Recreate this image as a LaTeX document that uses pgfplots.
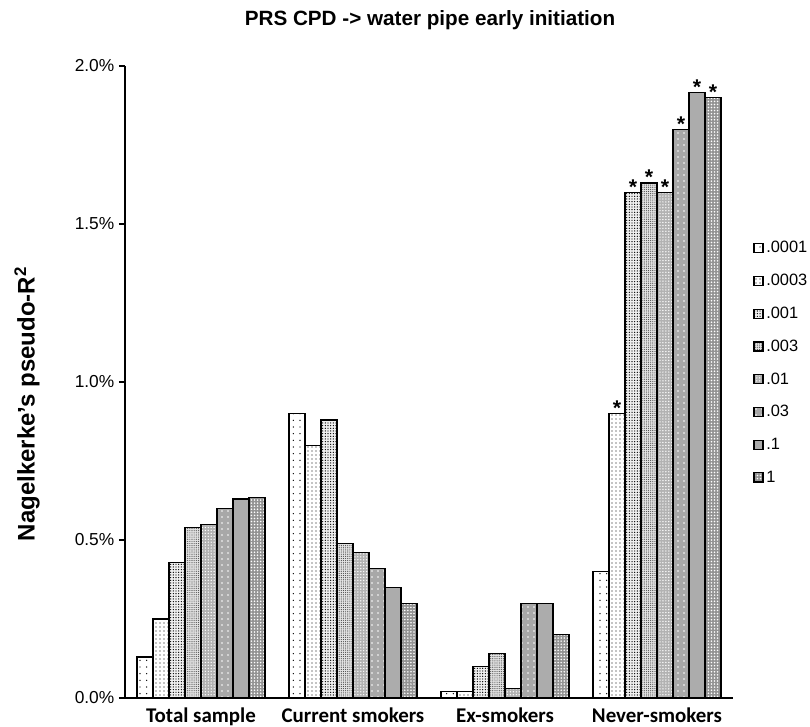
\documentclass[border=0pt]{standalone}
\usepackage{pgfplots}
\pgfplotsset{compat=1.18}
\usepackage{fontspec}
\setmainfont{Liberation Sans}
\newfontfamily\carlito{Carlito}
\usetikzlibrary{patterns,patterns.meta}

\pgfplotsset{
 sA/.style={draw=black, line width=0.9pt, fill=white, postaction={pattern={Dots[distance=5pt,radius=0.55pt]}, pattern color=black}},
 sB/.style={draw=black, line width=0.9pt, fill=white, postaction={pattern={Dots[distance=3pt,radius=0.5pt]}, pattern color=black}},
 sC/.style={draw=black, line width=0.9pt, fill=gray!12, postaction={pattern={Dots[distance=2pt,radius=0.5pt]}, pattern color=black}},
 sD/.style={draw=black, line width=0.9pt, fill=gray!22, postaction={pattern={Dots[distance=1.6pt,radius=0.45pt]}, pattern color=gray!60!black}},
 sE/.style={draw=black, line width=0.9pt, fill=gray!60, postaction={pattern={Dots[distance=2.2pt,radius=0.55pt]}, pattern color=white}},
 sF/.style={draw=black, line width=0.9pt, fill=gray!68, postaction={pattern={Dots[distance=4.5pt,radius=0.7pt]}, pattern color=white}},
 sG/.style={draw=black, line width=0.9pt, fill=gray!55, postaction={pattern={Dots[distance=1.5pt,radius=0.35pt]}, pattern color=gray!30!black}},
 sH/.style={draw=black, line width=0.9pt, fill=gray!85, postaction={pattern={Dots[distance=2.3pt,radius=0.65pt]}, pattern color=white}},
 sqleg/.style={legend image code/.code={\draw[##1] (0pt,-3.4pt) rectangle (6.8pt,3.4pt);}},
}

\begin{document}
\begin{tikzpicture}
\useasboundingbox (-93.75pt,-21.75pt) rectangle (513.75pt,523.5pt);
\begin{axis}[
 at={(0pt,0pt)}, anchor=south west,
 scale only axis, width=456pt, height=474pt,
 ybar=0pt, bar width=12pt,
 xmin=-0.5, xmax=3.5, ymin=0, ymax=2,
 axis lines=left,
 axis line style={-, line width=1.4pt},
 x axis line style={-}, y axis line style={-},
 xtick={0,1,2,3},
 xticklabels={Total sample, Current smokers, Ex-smokers, Never-smokers},
 xtick style={draw=none},
 xticklabel style={font=\carlito\bfseries\fontsize{15.7}{17}\selectfont, yshift=1pt},
 ytick={0,0.5,1,1.5,2},
 yticklabels={0.0\%,0.5\%,1.0\%,1.5\%,2.0\%},
 ytick style={line width=1.4pt, black},
 tick align=outside, major tick length=4.5pt,
 yticklabel style={font=\fontsize{13}{15}\selectfont},
 legend style={at={(1.033,0.727)}, anchor=north west, draw=none, fill=none,
   font=\fontsize{12.3}{14}\selectfont, row sep=10.5pt, inner sep=0pt},
 legend cell align=left,
 nodes near coords, point meta=explicit symbolic,
 every node near coord/.append style={font=\bfseries\fontsize{16}{16}\selectfont, inner sep=1pt, yshift=-3pt},
]
\addplot[sA, sqleg] coordinates {(0,0.13) [] (1,0.90) [] (2,0.02) [] (3,0.40) []};
\addplot[sB, sqleg] coordinates {(0,0.25) [] (1,0.80) [] (2,0.02) [] (3,0.90) [*]};
\addplot[sC, sqleg] coordinates {(0,0.43) [] (1,0.88) [] (2,0.10) [] (3,1.60) [*]};
\addplot[sD, sqleg] coordinates {(0,0.54) [] (1,0.49) [] (2,0.14) [] (3,1.63) [*]};
\addplot[sE, sqleg] coordinates {(0,0.55) [] (1,0.46) [] (2,0.03) [] (3,1.60) [*]};
\addplot[sF, sqleg] coordinates {(0,0.60) [] (1,0.41) [] (2,0.30) [] (3,1.80) [*]};
\addplot[sG, sqleg] coordinates {(0,0.63) [] (1,0.35) [] (2,0.30) [] (3,1.915) [*]};
\addplot[sH, sqleg] coordinates {(0,0.635) [] (1,0.30) [] (2,0.20) [] (3,1.90) [*]};
\legend{.0001,.0003,.001,.003,.01,.03,.1,1}
\end{axis}
\node[font=\bfseries\fontsize{15.5}{17}\selectfont] at (228.75pt,508.5pt) {PRS CPD -> water pipe early initiation};
\node[rotate=90, font=\bfseries\fontsize{18}{20}\selectfont] at (-73.5pt,220.5pt) {Nagelkerke's pseudo-R\textsuperscript{2}};
\end{tikzpicture}
\end{document}
